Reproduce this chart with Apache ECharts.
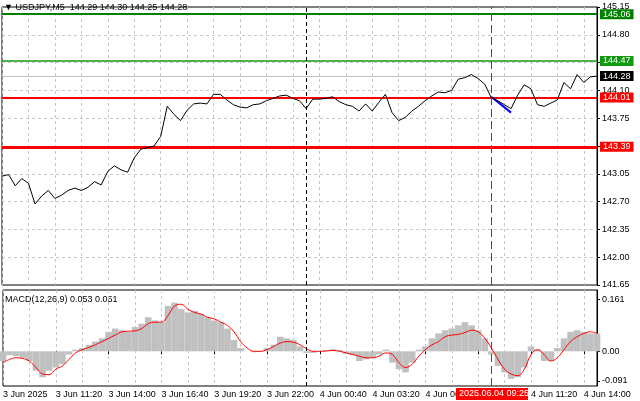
<!DOCTYPE html>
<html><head><meta charset="utf-8">
<script src="https://cdn.jsdelivr.net/npm/echarts@6/dist/echarts.min.js"></script>
<style>html,body{margin:0;padding:0;background:#fff}#c{width:640px;height:401px}</style>
</head><body><div id="c"></div>
<script>
const price = [143.02,143.04,142.90,142.99,142.93,142.67,142.77,142.84,142.74,142.78,
142.84,142.87,142.84,142.88,142.95,142.91,143.08,143.15,143.10,143.07,
143.25,143.36,143.38,143.40,143.52,143.90,143.80,143.72,143.85,143.93,
143.94,143.93,144.05,144.05,143.98,143.92,143.89,143.88,143.92,143.93,
143.97,144.00,144.03,144.04,144.00,143.97,143.87,143.99,143.99,144.00,
144.02,143.96,143.92,143.90,143.84,143.93,143.84,143.95,144.05,143.82,
143.72,143.76,143.84,143.90,143.97,144.03,144.08,144.07,144.10,144.24,
144.26,144.30,144.25,144.18,144.01,143.97,143.92,143.87,144.04,144.17,
144.12,143.92,143.90,143.94,143.98,144.20,144.12,144.30,144.20,144.27,144.28];
const macdHist = [-0.03,-0.012,-0.015,-0.02,-0.03,-0.06,-0.08,-0.06,-0.05,-0.04,
-0.01,0.005,0.01,0.02,0.03,0.04,0.06,0.07,0.065,0.06,
0.075,0.085,0.105,0.095,0.09,0.14,0.15,0.13,0.12,0.125,
0.115,0.105,0.095,0.09,0.07,0.035,0.01,0.0,-0.003,-0.002,
0.01,0.02,0.045,0.04,0.035,0.015,-0.005,-0.005,0.0,0.003,
0.006,0.004,-0.008,-0.012,-0.03,-0.025,-0.02,-0.01,0.005,-0.035,
-0.055,-0.065,-0.035,0.005,0.015,0.04,0.055,0.065,0.07,0.08,
0.09,0.08,0.065,0.04,-0.01,-0.045,-0.065,-0.085,-0.08,-0.05,
0.015,0.005,-0.03,-0.03,0.01,0.04,0.06,0.065,0.06,0.055,0.055];
const macdSignal = [-0.035,-0.025,-0.02,-0.022,-0.03,-0.05,-0.07,-0.072,-0.055,-0.045,
-0.025,-0.005,0.005,0.012,0.02,0.03,0.04,0.05,0.06,0.062,
0.063,0.07,0.085,0.09,0.09,0.11,0.14,0.145,0.13,0.12,
0.115,0.105,0.1,0.09,0.08,0.06,0.03,0.01,0.0,0.0,
0.005,0.015,0.025,0.03,0.028,0.02,0.008,0.0,0.0,0.001,
0.003,0.0,-0.005,-0.01,-0.015,-0.02,-0.02,-0.015,-0.005,-0.01,
-0.035,-0.05,-0.04,-0.015,0.005,0.02,0.03,0.045,0.05,0.052,
0.058,0.065,0.06,0.04,0.01,-0.025,-0.055,-0.07,-0.075,-0.055,
-0.01,0.005,-0.01,-0.03,-0.02,0.005,0.03,0.045,0.055,0.06,0.055];
const priceTicks = [145.15,144.80,144.45,144.10,143.75,143.40,143.05,142.70,142.35,142.00,141.65];
const macdTicks = [0.161,0,-0.091];
const levels = [
  {v:145.06,c:'#008000',w:2,t:'145.06'},
  {v:144.47,c:'#119911',w:1.5,t:'144.47'},
  {v:144.28,c:'#c0c0c0',w:1,t:'144.28',bg:'#000'},
  {v:144.01,c:'#ff0000',w:2,t:'144.01'},
  {v:143.39,c:'#ff0000',w:3,t:'143.39'}];
const blueSeg = [[74,144.02],[77,143.82]];
const dayStartIdx = 46, markerIdx = 74, hiddenLabelIdx = 72;
const cats = [];
for (let i=0;i<price.length;i++){
  const m = 8*60+40 + i*20; const d = 3 + Math.floor(m/1440); const mm = m%1440;
  const hh = String(Math.floor(mm/60)).padStart(2,'0'), mi = String(mm%60).padStart(2,'0');
  cats.push(i===0 ? '3 Jun 2025' : d+' Jun '+hh+':'+mi);
}
const F = 'Liberation Sans, Arial, sans-serif';
const chart = echarts.init(document.getElementById('c'));
const vsplit = {show:true,interval:3,lineStyle:{color:'#c8c8c8',type:[3,3],width:1}};
chart.setOption({
  animation:false,
  textStyle:{fontFamily:F},
  grid:[{left:2,right:43,top:7,height:278,show:true,borderColor:'#000',borderWidth:1},
        {left:2,right:43,top:290,height:96,show:true,borderColor:'#000',borderWidth:1}],
  xAxis:[
    {type:'category',gridIndex:0,data:cats,boundaryGap:false,axisLine:{show:false},axisTick:{show:false},axisLabel:{show:false},splitLine:vsplit},
    {type:'category',gridIndex:1,data:cats,boundaryGap:false,axisLine:{show:false},
     axisTick:{show:true,interval:7,length:3,lineStyle:{color:'#000'}},
     axisLabel:{interval:7,align:'left',fontSize:9,color:'#000',margin:4,
       formatter:(v,i)=>i===hiddenLabelIdx?'':v},splitLine:vsplit}],
  yAxis:[
    {type:'value',gridIndex:0,position:'right',min:141.65,max:145.15,
     axisLine:{show:true,lineStyle:{color:'#000'}},
     axisTick:{show:true,customValues:priceTicks,length:3,inside:false},
     axisLabel:{customValues:priceTicks,fontSize:9,color:'#000',margin:5,formatter:v=>v.toFixed(2)},
     splitLine:{show:false}},
    {type:'value',gridIndex:1,position:'right',min:-0.107,max:0.189,
     axisLine:{show:true,lineStyle:{color:'#000'}},
     axisTick:{show:true,customValues:macdTicks,length:3},
     axisLabel:{customValues:macdTicks,fontSize:9,color:'#000',margin:5,formatter:v=>v===0?'0.00':String(v)},
     splitLine:{show:false}}],
  series:[
    {type:'line',xAxisIndex:0,yAxisIndex:0,data:priceTicks.map(()=>null),silent:true,
     markLine:{symbol:'none',silent:true,label:{show:false},lineStyle:{color:'#c8c8c8',type:[3,3],width:1},
       data:priceTicks.slice(1,-1).map(v=>({yAxis:v}))}},
    {type:'line',xAxisIndex:0,yAxisIndex:0,data:price,symbol:'none',lineStyle:{color:'#000',width:1},z:5,
     markLine:{symbol:'none',silent:true,
       data:levels.map(l=>({yAxis:l.v,lineStyle:{color:l.c,width:l.w,type:'solid'},
         label:{show:true,position:'end',distance:3,formatter:l.t,color:'#fff',fontSize:9,
                backgroundColor:l.bg||l.c,padding:[1,3,0,3]}})).concat([
         {xAxis:dayStartIdx,lineStyle:{color:'#000',type:[4,3],width:1},label:{show:false}},
         {xAxis:markerIdx,lineStyle:{color:'#ff0000',type:[8,4],width:1},label:{show:false}},
         [{coord:blueSeg[0],lineStyle:{color:'#0000ff',width:2,type:'solid'},label:{show:false}},{coord:blueSeg[1]}]
       ])}},
    {type:'bar',xAxisIndex:1,yAxisIndex:1,data:macdHist,itemStyle:{color:'#c0c0c0'},barCategoryGap:'0%',
     markLine:{symbol:'none',silent:true,label:{show:false},data:[
       {xAxis:dayStartIdx,lineStyle:{color:'#000',type:[4,3],width:1}},
       {xAxis:markerIdx,lineStyle:{color:'#ff0000',type:[8,4],width:1}}]}},
    {type:'line',xAxisIndex:1,yAxisIndex:1,data:macdSignal,symbol:'none',smooth:0.4,lineStyle:{color:'#ff0000',width:1}}
  ],
  graphic:[
    {type:'text',left:4,top:3,style:{text:'▼ USDJPY,M5  144.29 144.30 144.25 144.28',font:'9px '+F,fill:'#000'}},
    {type:'text',left:5,top:295,style:{text:'MACD(12,26,9) 0.053 0.051',font:'9px '+F,fill:'#000'}},
    {type:'rect',zlevel:5,z:100,shape:{x:456,y:388,width:72,height:12},style:{fill:'#ff0000'}},
    {type:'text',zlevel:5,z:101,x:459,y:389,style:{text:'2025.06.04 09:25',font:'9px '+F,fill:'#fff'}}
  ]
});
</script></body></html>
